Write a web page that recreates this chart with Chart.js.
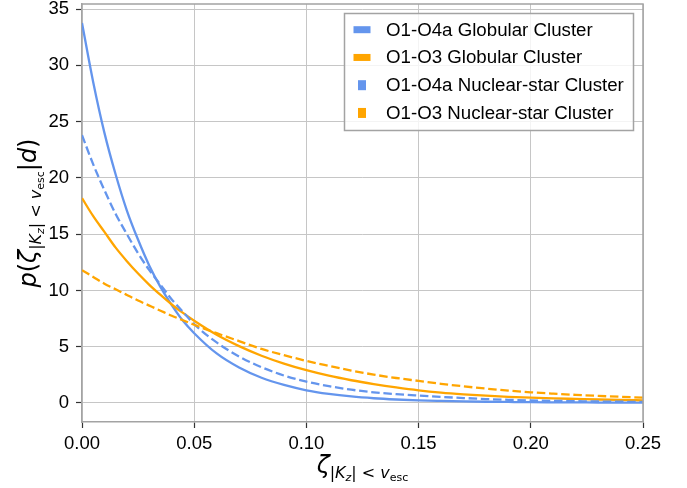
<!DOCTYPE html>
<html>
<head>
<meta charset="utf-8">
<script src="https://cdn.jsdelivr.net/npm/chart.js@4.4.1/dist/chart.umd.min.js"></script>
<style>
  html, body { margin: 0; padding: 0; background: #fff; }
</style>
</head>
<body>
<canvas id="chart1" width="687" height="488"></canvas>
<script>
const zeta = [0, 0.005, 0.01, 0.015, 0.02, 0.025, 0.03, 0.035, 0.04, 0.045, 0.05,
  0.06, 0.07, 0.08, 0.09, 0.10, 0.11, 0.12, 0.13, 0.14, 0.15,
  0.16, 0.17, 0.18, 0.19, 0.20, 0.21, 0.22, 0.23, 0.24, 0.25];

const globularO4a = [33.76, 28.5, 24.0, 20.3, 17.1, 14.5, 12.2, 10.3, 8.7, 7.3, 6.2,
  4.4, 3.15, 2.24, 1.6, 1.13, 0.81, 0.58, 0.42, 0.31, 0.23,
  0.18, 0.14, 0.11, 0.09, 0.07, 0.06, 0.05, 0.04, 0.03, 0.03];
const globularO3 = [18.2, 16.6, 15.2, 13.8, 12.6, 11.5, 10.5, 9.6, 8.75, 8.0, 7.3,
  6.06, 5.05, 4.2, 3.5, 2.91, 2.42, 2.02, 1.68, 1.38, 1.12,
  0.92, 0.77, 0.65, 0.55, 0.47, 0.41, 0.36, 0.31, 0.27, 0.24];
const nuclearO4a = [23.8, 21.2, 18.9, 16.8, 15.0, 13.3, 11.8, 10.5, 9.2, 8.1, 7.0,
  5.38, 4.13, 3.18, 2.44, 1.9, 1.5, 1.18, 0.95, 0.79, 0.66,
  0.54, 0.44, 0.35, 0.28, 0.22, 0.19, 0.16, 0.13, 0.11, 0.09];
const nuclearO3 = [11.8, 11.2, 10.6, 10.1, 9.6, 9.1, 8.65, 8.2, 7.75, 7.35, 6.95,
  6.2, 5.5, 4.8, 4.25, 3.74, 3.3, 2.88, 2.52, 2.22, 1.96,
  1.7, 1.48, 1.28, 1.1, 0.95, 0.83, 0.72, 0.63, 0.55, 0.48];

const labels = ["O1-O4a Globular Cluster", "O1-O3 Globular Cluster",
  "O1-O4a Nuclear-star Cluster", "O1-O3 Nuclear-star Cluster"];
const xTicks = [0, 0.05, 0.10, 0.15, 0.20, 0.25];
const yTicks = [0, 5, 10, 15, 20, 25, 30, 35];

const BLUE = "#6495ed";
const ORANGE = "#ffa500";
const GRID = "#c6c6c6";
const FRAME = "#a3a3a3";

const toPoints = (ys) => zeta.map((x, i) => ({ x: x, y: ys[i] }));

const mkSet = (label, ys, color, dashed, order) => ({
  label: label,
  data: toPoints(ys),
  borderColor: color,
  backgroundColor: color,
  borderWidth: 2.3,
  borderDash: dashed ? [8.5, 3.7] : [],
  pointRadius: 0,
  cubicInterpolationMode: "monotone",
  fill: false,
  order: order,
  dashed: dashed,
});

// mathtext-ish drawing: pieces with size / italic / baseline shift
const fontOf = (p) => (p.it ? "italic " : "") + p.s + 'px "DejaVu Sans"';
const drawPieces = (ctx, pieces) => {
  let total = 0;
  pieces.forEach((p) => {
    ctx.font = fontOf(p);
    p.w = ctx.measureText(p.t).width;
    total += p.w;
  });
  let cx = -total / 2;
  pieces.forEach((p) => {
    ctx.font = fontOf(p);
    ctx.fillText(p.t, cx, p.dy || 0);
    cx += p.w;
  });
};
const subPieces = () => [
  { t: "|", s: 16, dy: 5 }, { t: "K", s: 16, it: 1, dy: 5 }, { t: "z", s: 11, it: 1, dy: 8 },
  { t: "|", s: 16, dy: 5 }, { t: " < ", s: 16, dy: 5 }, { t: "v", s: 16, it: 1, dy: 5 },
  { t: "esc", s: 11, dy: 8 },
];

const extrasPlugin = {
  id: "extras",
  afterDatasetsDraw(chart) {
    const ctx = chart.ctx;
    const a = chart.chartArea;
    // top and right frame
    ctx.save();
    ctx.strokeStyle = FRAME;
    ctx.lineWidth = 1.5;
    ctx.beginPath();
    ctx.moveTo(a.left, a.top);
    ctx.lineTo(a.right, a.top);
    ctx.lineTo(a.right, a.bottom);
    ctx.stroke();
    ctx.restore();
  },
  afterDraw(chart) {
    const ctx = chart.ctx;
    const a = chart.chartArea;
    ctx.save();
    ctx.fillStyle = "#000";
    ctx.textAlign = "left";
    ctx.textBaseline = "alphabetic";

    // y title
    ctx.save();
    ctx.translate(36, (a.top + a.bottom) / 2);
    ctx.rotate(-Math.PI / 2);
    drawPieces(ctx, [{ t: "p", s: 24, it: 1 }, { t: "(", s: 24 }, { t: "ζ", s: 24, it: 1 }]
      .concat(subPieces())
      .concat([{ t: "|", s: 24 }, { t: "d", s: 24, it: 1 }, { t: ")", s: 24 }]));
    ctx.restore();

    // x title
    ctx.save();
    ctx.translate((a.left + a.right) / 2, 473);
    drawPieces(ctx, [{ t: "ζ", s: 24, it: 1 }].concat(subPieces()));
    ctx.restore();

    // legend
    const bx = 344.5, by = 13.5, bw = 289, bh = 117;
    ctx.fillStyle = "rgba(255,255,255,0.8)";
    ctx.fillRect(bx, by, bw, bh);
    ctx.strokeStyle = FRAME;
    ctx.lineWidth = 1.5;
    ctx.strokeRect(bx, by, bw, bh);
    ctx.font = '18.7px "Liberation Sans"';
    chart.data.datasets.forEach((ds, i) => {
      const base = 35.7 + i * 27.75;
      const mid = base - 6;
      ctx.fillStyle = ds.borderColor;
      if (ds.dashed) ctx.fillRect(358, mid - 5, 8, 10);
      else ctx.fillRect(353.5, mid - 3.5, 17, 7);
      ctx.fillStyle = "#000";
      ctx.fillText(ds.label, 386, base);
    });
    ctx.restore();
  },
};

const config = {
  type: "line",
  data: {
    datasets: [
      mkSet(labels[0], globularO4a, BLUE, false, 3),
      mkSet(labels[1], globularO3, ORANGE, false, 2),
      mkSet(labels[2], nuclearO4a, BLUE, true, 1),
      mkSet(labels[3], nuclearO3, ORANGE, true, 0),
    ],
  },
  options: {
    responsive: false,
    animation: false,
    devicePixelRatio: 1,
    layout: { padding: { left: 0, right: 44, top: 4, bottom: 0 } },
    plugins: { legend: { display: false }, tooltip: { enabled: false } },
    scales: {
      x: {
        type: "linear",
        min: 0,
        max: 0.25,
        afterBuildTicks: (s) => { s.ticks = xTicks.map((v) => ({ value: v })); },
        afterFit: (s) => { s.height = 66; s.paddingLeft = 0; s.paddingRight = 0; },
        ticks: {
          color: "#000",
          font: { family: "Liberation Sans", size: 18.5 },
          padding: 5,
          maxRotation: 0,
          callback: (v) => v.toFixed(2),
        },
        grid: { color: GRID, lineWidth: 1, tickColor: "#333", tickLength: 6, tickWidth: 1.2 },
        border: { display: true, color: FRAME, width: 1.5 },
      },
      y: {
        type: "linear",
        min: -1.69,
        max: 35.45,
        afterBuildTicks: (s) => { s.ticks = yTicks.map((v) => ({ value: v })); },
        afterFit: (s) => { s.width = 82; s.paddingTop = 0; s.paddingBottom = 0; },
        ticks: {
          color: "#000",
          font: { family: "Liberation Sans", size: 18.5 },
          padding: 7,
          callback: (v) => String(v),
        },
        grid: { color: GRID, lineWidth: 1, tickColor: "#333", tickLength: 6, tickWidth: 1.2 },
        border: { display: true, color: FRAME, width: 1.5 },
      },
    },
  },
  plugins: [extrasPlugin],
};

const myChart = new Chart(document.getElementById("chart1"), config);
</script>
</body>
</html>
